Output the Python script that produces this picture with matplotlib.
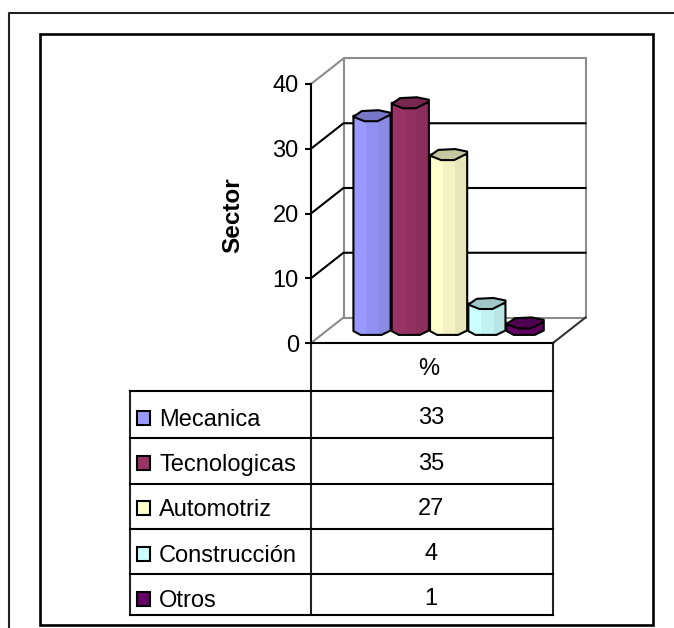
import matplotlib
matplotlib.use("Agg")
import matplotlib.pyplot as plt
from matplotlib.patches import Polygon, Rectangle
from matplotlib.colors import to_rgb

plt.rcParams['font.family'] = ['Liberation Sans', 'DejaVu Sans']

categories = ['Mecanica', 'Tecnologicas', 'Automotriz', 'Construcción', 'Otros']
values = [33, 35, 27, 4, 1]
colors = ['#9999FF', '#993366', '#FFFFCC', '#CCFFFF', '#660066']
y_ticks = [0, 10, 20, 30, 40]
series_name = '%'

W, H = 674, 628
FS = 17
LW = 1.5
fig = plt.figure(figsize=(W / 100, H / 100), dpi=100)

# overlay in pixel coords for the frames and the table
bg = fig.add_axes([0, 0, 1, 1])
bg.set_xlim(0, W)
bg.set_ylim(H, 0)
bg.axis('off')
bg.plot([9, 9, W], [H + 5, 12.5, 12.5], color='#222222', lw=1.5)
bg.add_patch(Rectangle((40, 34), 613, 591, fill=False, ec='black', lw=1.9))

# front plane of the 3d box
left, right, y0, y40 = 311, 553, 343, 84
ax = fig.add_axes([left / W, 1 - y0 / H, (right - left) / W, (y0 - y40) / H])
ax.patch.set_alpha(0)
slot = 38.3
ax.set_xlim(-61 / slot, -61 / slot + (right - left) / slot)
ax.set_ylim(0, 40)
for s in ['top', 'right']:
    ax.spines[s].set_visible(False)
for s in ['left', 'bottom']:
    ax.spines[s].set_linewidth(LW)
ax.set_xticks([])
ax.set_yticks(y_ticks)
ax.tick_params(axis='y', labelsize=FS, length=4.3, width=LW, pad=4.5)

xmin, xmax = ax.get_xlim()
dx = 32.5 / slot      # depth of the box
dy = 25.5 / 6.475
GRAY = '#8c8c8c'

# walls
ax.plot([xmin + dx, xmin + dx, xmax + dx, xmax + dx, xmin + dx],
        [dy, 40 + dy, 40 + dy, dy, dy], color=GRAY, lw=LW, clip_on=False, zorder=1)
ax.plot([xmin, xmin + dx], [0, dy], color=GRAY, lw=LW, clip_on=False, zorder=1)
ax.plot([xmin, xmin + dx], [40, 40 + dy], color=GRAY, lw=LW, clip_on=False, zorder=1)
ax.plot([xmax, xmax + dx], [0, dy], color='#333333', lw=LW, clip_on=False, zorder=1)
for t in y_ticks[1:-1]:
    ax.plot([xmin, xmin + dx, xmax + dx], [t, t + dy, t + dy], color='black',
            lw=LW, clip_on=False, zorder=1)


def shade(c, f):
    return tuple(v * f for v in to_rgb(c))


base = 2.1     # bars stand part way into the floor
cap = 0.85     # half height of the top facet
half = 0.485
cap_u = [-1, -0.55, 0.35, 1, 1, 0.3, -0.4, -1]
cap_v = [-0.2, 0.85, 1, 0.55, 0.2, -1, -1, -0.2]

for i, (val, col) in enumerate(zip(values, colors)):
    top = val + base
    # body outline incl. lower facet edge
    body = [(i - half, top), (i - half, base - 0.3 * cap), (i - 0.3, base - cap),
            (i + 0.25, base - cap), (i + half, base - 0.2 * cap), (i + half, top)]
    ax.add_patch(Polygon(body, closed=True, fc=col, ec='none', zorder=3))
    # facet strips
    ax.add_patch(Polygon([(i - 0.15, top), (i - 0.15, base - cap), (i + 0.17, base - cap), (i + 0.17, top)],
                         closed=True, fc=shade(col, 0.95), ec='none', zorder=3))
    ax.add_patch(Polygon([(i + 0.17, top), (i + 0.17, base - cap), (i + 0.25, base - cap),
                          (i + half, base - 0.2 * cap), (i + half, top)],
                         closed=True, fc=shade(col, 0.9), ec='none', zorder=3))
    ax.add_patch(Polygon(body, closed=True, fc='none', ec='black', lw=LW, joinstyle='round', zorder=4))
    pts = [(i + half * u, top + cap * v) for u, v in zip(cap_u, cap_v)]
    ax.add_patch(Polygon(pts, closed=True, fc=shade(col, 0.78), ec='black', lw=LW, joinstyle='round', zorder=5))

fig.text(233 / W, 1 - 215 / H, 'Sector', rotation=90, fontsize=17.5, fontweight='bold',
         ha='center', va='center')

# data table below the chart
rows = [391, 438, 484, 529, 574, 615]
tl, tm, tr = 130, 311, 553
bg.plot([tm, tm], [343, rows[-1]], color='#222222', lw=LW)
bg.plot([tr, tr], [343, rows[-1]], color='#222222', lw=LW)
bg.plot([tl, tl], [rows[0], rows[-1]], color='#222222', lw=LW)
for r in rows:
    bg.plot([tl, tr], [r, r], color='black', lw=LW)
bg.text(429, 369, series_name, fontsize=FS, ha='center', va='center')
for i, (name, val, col) in enumerate(zip(categories, values, colors)):
    yc = 418 + 45.2 * i
    bg.add_patch(Rectangle((137, yc - 7), 13, 14, fc=col, ec='black', lw=LW))
    bg.text(159, yc + 2, name, fontsize=FS, ha='left', va='center')
    bg.text(431, yc + 0.5, str(val), fontsize=FS, ha='center', va='center')

fig.savefig('out.png', dpi=100)
